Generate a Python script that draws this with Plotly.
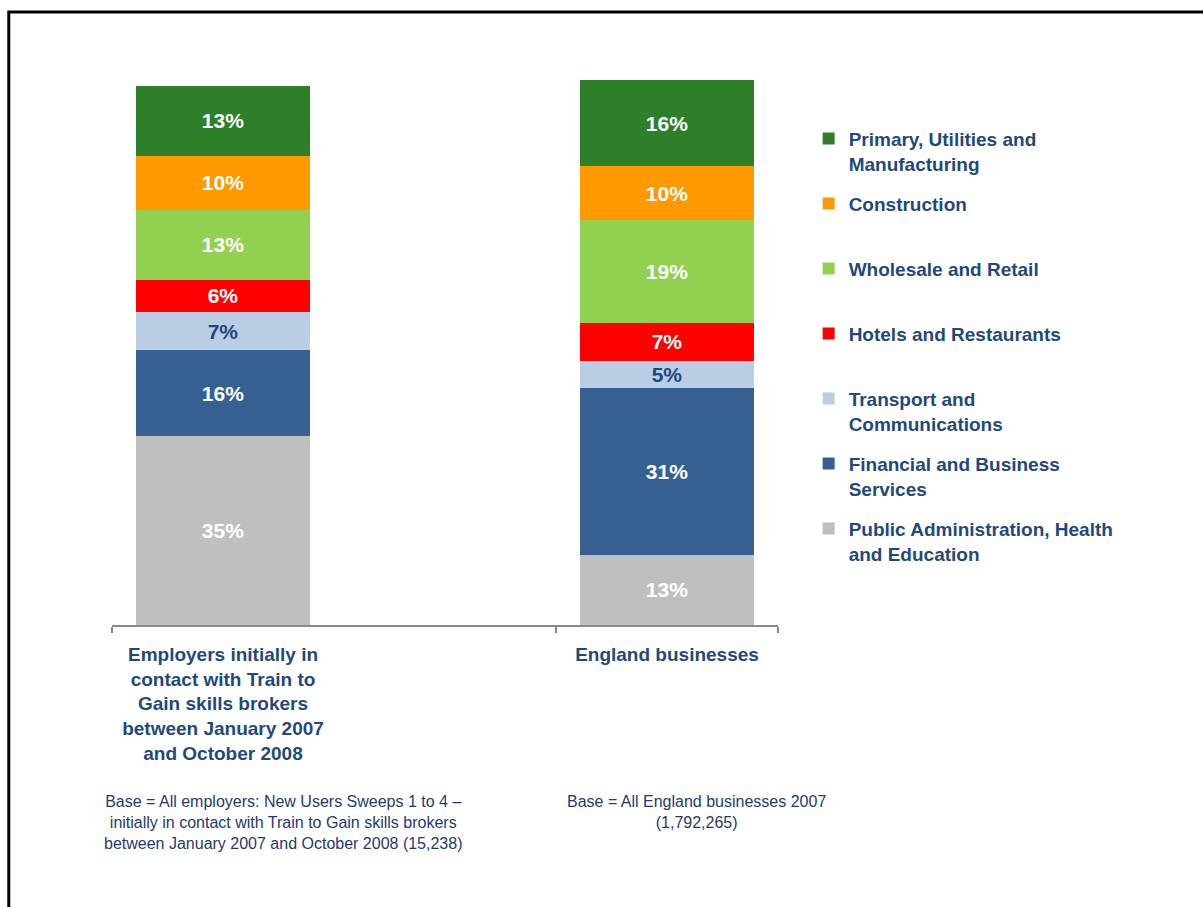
import plotly.graph_objects as go

# ---- data ----
categories = ["Employers", "England"]
tick_labels = [
    "Employers initially in<br>contact with Train to<br>Gain skills brokers<br>between January 2007<br>and October 2008",
    "England businesses",
]
sectors = [
    "Public Administration, Health<br>and Education",
    "Financial and Business<br>Services",
    "Transport and<br>Communications",
    "Hotels and Restaurants<br>\u00a0",
    "Wholesale and Retail<br>\u00a0",
    "Construction<br>\u00a0",
    "Primary, Utilities and<br>Manufacturing",
]
public_admin = [35, 13]
financial = [16, 31]
transport = [7, 5]
hotels = [6, 7]
wholesale = [13, 19]
construction = [10, 10]
primary = [13, 16]
series = [public_admin, financial, transport, hotels, wholesale, construction, primary]
colors = ["#BFBFBF", "#376092", "#B9CDE5", "#FF0000", "#92D050", "#FF9900", "#2D7F2A"]
text_colors = ["white", "white", "#1F497D", "white", "white", "white", "white"]
notes = [
    "Base = All employers: New Users Sweeps 1 to 4 \u2013<br>initially in contact with Train to Gain skills brokers<br>between January 2007 and October 2008 (15,238)",
    "Base = All England businesses 2007<br>(1,792,265)",
]

NAVY = "#1F497D"
FONT = "Liberation Sans, Arial, sans-serif"

fig = go.Figure()
n = len(sectors)
for i, (name, vals) in enumerate(zip(sectors, series)):
    fig.add_trace(go.Bar(
        x=categories, y=vals, name=name, legendgroup=str(i), legendrank=100 + (n - i) * 10,
        marker=dict(color=colors[i], line=dict(width=0)),
        texttemplate="%{y}%", textposition="inside", insidetextanchor="middle",
        textangle=0, constraintext="none",
        textfont=dict(family=FONT, size=21, color=text_colors[i], weight="bold"),
    ))

fig.update_layout(
    width=1203, height=907,
    barmode="stack", bargap=0.22,
    paper_bgcolor="white", plot_bgcolor="white",
    margin=dict(l=112, r=425, t=71, b=282),
    font=dict(family=FONT, color=NAVY),
    showlegend=True,
    legend=dict(
        x=1.046, y=0.912, xanchor="left", yanchor="top",
        traceorder="grouped", tracegroupgap=12.6, valign="top",
        font=dict(family=FONT, size=19, color=NAVY, weight="bold"),
        bgcolor="rgba(0,0,0,0)",
    ),
    xaxis=dict(
        type="category", categoryorder="array",
        categoryarray=[categories[0], " ", categories[1]],
        range=[-0.5, 2.5],
        tickvals=[categories[0], categories[1]], ticktext=tick_labels,
        tickson="boundaries", ticks="outside", ticklen=6, tickwidth=1.5, tickcolor="#898989",
        ticklabelstandoff=11,
        showline=True, linecolor="#898989", linewidth=2,
        tickfont=dict(family=FONT, size=19, color=NAVY, weight="bold"),
        showgrid=False, zeroline=False, fixedrange=True,
    ),
    yaxis=dict(range=[0, 102.7], visible=False, fixedrange=True),
)

# notes beneath each group
fig.add_annotation(text=notes[0], xref="paper", yref="paper", x=0.257, y=-0.3,
                   xanchor="center", yanchor="top", showarrow=False, align="center",
                   font=dict(family=FONT, size=16, color="#1F3A70"))
fig.add_annotation(text=notes[1], xref="paper", yref="paper", x=0.877, y=-0.3,
                   xanchor="center", yanchor="top", showarrow=False, align="center",
                   font=dict(family=FONT, size=16, color="#1F3A70"))

# frame line (top and left edges)
fig.add_shape(type="rect", xref="paper", yref="paper",
              x0=-0.155, x1=1.66, y0=-0.53, y1=1.1065,
              line=dict(color="black", width=3), fillcolor="rgba(0,0,0,0)", layer="above")

fig.write_html("out.html", config={"displayModeBar": False},
               post_script="document.body.style.margin='0';")
